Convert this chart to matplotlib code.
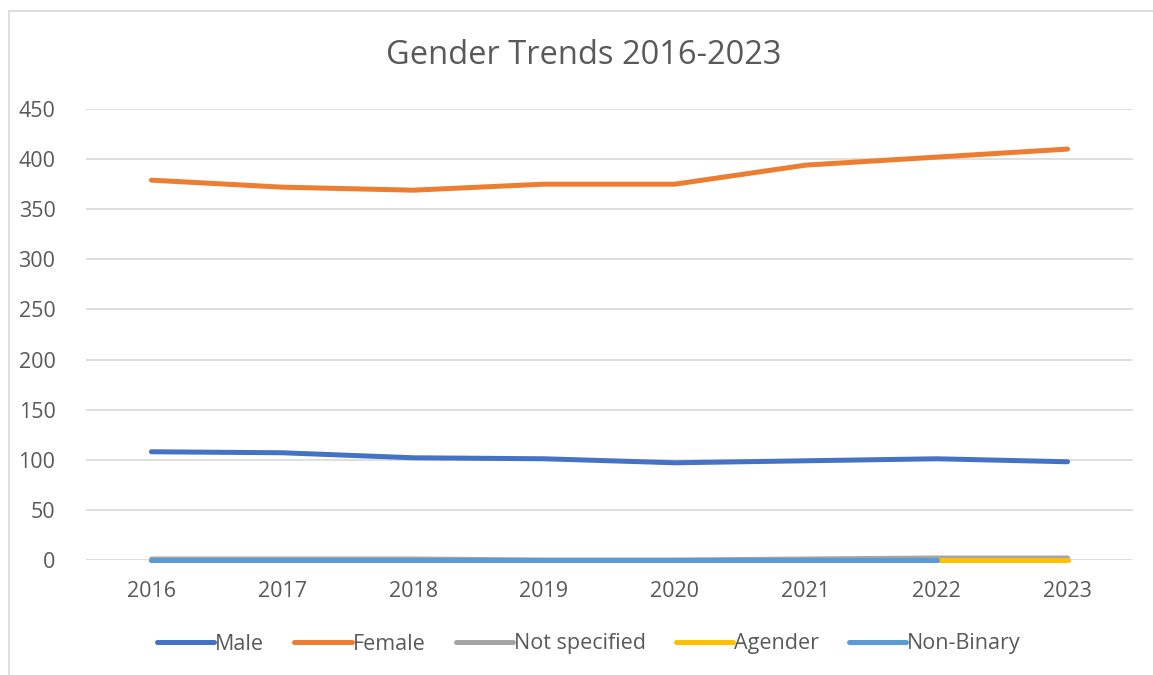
import numpy as np
import matplotlib
matplotlib.use('Agg')
import matplotlib.pyplot as plt
from matplotlib.patches import Rectangle

# data
years = ['2016', '2017', '2018', '2019', '2020', '2021', '2022', '2023']
male = [108, 107, 102, 101, 97, 99, 101, 98]
female = [379, 372, 369, 375, 375, 394, 402, 410]
not_specified = [1, 1, 1, 0, 0, 1, 2, 2]
agender = [0, 0, 0, 0, 0, 0, 0, 0]
non_binary = [0, 0, 0, 0, 0, 0, 0, np.nan]

series = [
    ('Male', male, '#4472C4'),
    ('Female', female, '#ED7D31'),
    ('Not specified', not_specified, '#A5A5A5'),
    ('Agender', agender, '#FFC000'),
    ('Non-Binary', non_binary, '#5B9BD5'),
]

plt.rcParams['font.family'] = ['Open Sans', 'DejaVu Sans']
text_col = '#595959'

W, H = 1153, 675
fig = plt.figure(figsize=(W / 100, H / 100), dpi=100)

# chart border (only left/top edges visible in the crop)
fig.patches.append(Rectangle((9 / W, -0.1), 1.2, 1.1 - 11 / H, transform=fig.transFigure,
                             fill=False, edgecolor='#D9D9D9', linewidth=1.2))

ax = fig.add_axes([86 / W, 1 - 560 / H, (1133 - 86) / W, (560 - 109) / H])

x = np.arange(len(years))
for name, vals, col in series:
    ax.plot(x, vals, color=col, linewidth=3.6, label=name, clip_on=False,
            solid_capstyle='round', solid_joinstyle='round')

ax.set_xlim(-0.5, len(years) - 0.5)
ax.set_ylim(0, 450)
ax.set_yticks(np.arange(0, 451, 50))
ax.set_xticks(x)
ax.set_xticklabels(years)
ax.grid(axis='y', color='#D9D9D9', linewidth=1.2)
ax.set_axisbelow(True)
for s in ax.spines.values():
    s.set_visible(False)
ax.tick_params(axis='both', length=0, labelsize=15.5, colors=text_col)
ax.tick_params(axis='y', pad=22)
ax.tick_params(axis='x', pad=15)

fig.text(584 / W, 1 - 55 / H, 'Gender Trends 2016-2023', ha='center', va='center',
         fontsize=23.5, color=text_col)

fig.legend(loc='center', bbox_to_anchor=(589 / W, 1 - 644 / H), ncol=5, frameon=False,
           fontsize=15.5, labelcolor=text_col, handlelength=2.65, handletextpad=0.05,
           columnspacing=1.4)

fig.savefig('out.png', dpi=100, facecolor='white')
